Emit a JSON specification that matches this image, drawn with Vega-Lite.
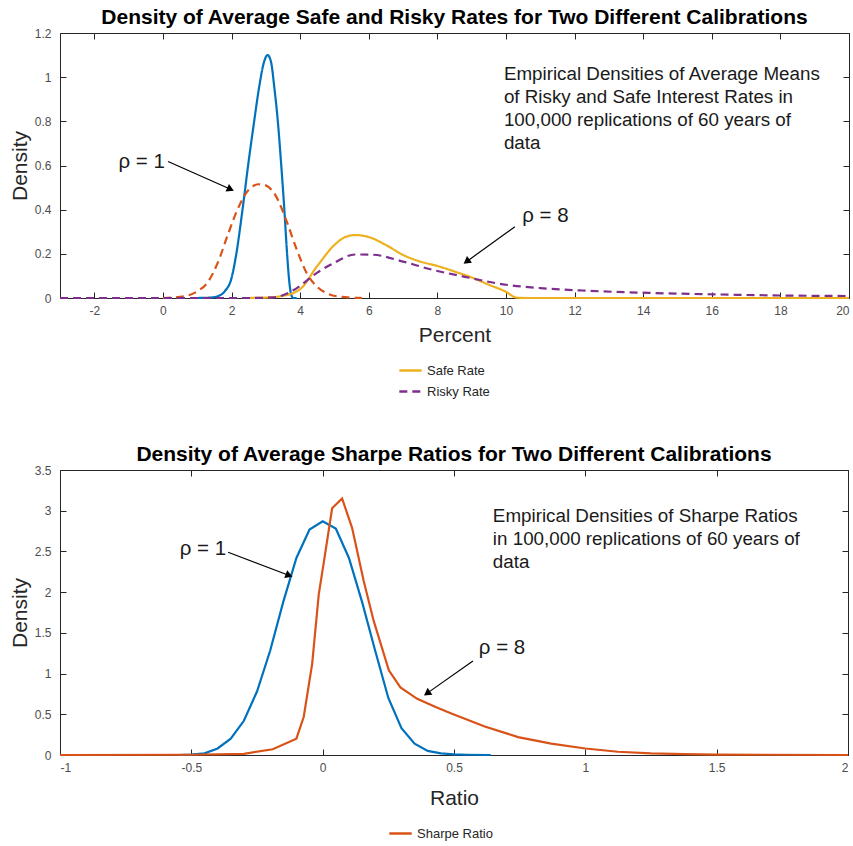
{
  "$schema": "https://vega.github.io/schema/vega-lite/v6.json",
  "padding": {"top": 6, "left": 8, "right": 3, "bottom": 40},
  "spacing": 43,
  "resolve": {"scale": {"color": "independent", "strokeDash": "independent"}, "legend": {"color": "independent", "strokeDash": "independent"}},
  "config": {
    "font": "Liberation Sans",
    "view": {"stroke": "#262626", "strokeWidth": 1},
    "axis": {"grid": false, "domain": false, "tickColor": "#262626", "tickSize": -6, "labelFontSize": 12, "labelColor": "#4d4d4d", "titleFontSize": 21, "titleFontWeight": "normal", "titleColor": "#262626"},
    "axisX": {"labelPadding": 13},
    "axisY": {"labelPadding": 15},
    "title": {"fontSize": 21, "fontWeight": "bold", "color": "#000000", "offset": -1},
    "legend": {"symbolType": "stroke", "symbolStrokeWidth": 2.5, "symbolSize": 500, "labelFontSize": 13, "labelColor": "#262626", "rowPadding": 1, "title": null}
  },
  "datasets": {
    "rates": [
      {"x": 1.0, "y": 0, "series": "ρ=1 Safe"},
      {"x": 1.4, "y": 0.002, "series": "ρ=1 Safe"},
      {"x": 1.6, "y": 0.008, "series": "ρ=1 Safe"},
      {"x": 1.8, "y": 0.03, "series": "ρ=1 Safe"},
      {"x": 2.0, "y": 0.09, "series": "ρ=1 Safe"},
      {"x": 2.14, "y": 0.2, "series": "ρ=1 Safe"},
      {"x": 2.32, "y": 0.4, "series": "ρ=1 Safe"},
      {"x": 2.5, "y": 0.62, "series": "ρ=1 Safe"},
      {"x": 2.66, "y": 0.8, "series": "ρ=1 Safe"},
      {"x": 2.8, "y": 0.95, "series": "ρ=1 Safe"},
      {"x": 2.95, "y": 1.07, "series": "ρ=1 Safe"},
      {"x": 3.05, "y": 1.1, "series": "ρ=1 Safe"},
      {"x": 3.15, "y": 1.07, "series": "ρ=1 Safe"},
      {"x": 3.25, "y": 0.95, "series": "ρ=1 Safe"},
      {"x": 3.35, "y": 0.8, "series": "ρ=1 Safe"},
      {"x": 3.45, "y": 0.6, "series": "ρ=1 Safe"},
      {"x": 3.54, "y": 0.4, "series": "ρ=1 Safe"},
      {"x": 3.62, "y": 0.2, "series": "ρ=1 Safe"},
      {"x": 3.68, "y": 0.08, "series": "ρ=1 Safe"},
      {"x": 3.74, "y": 0.015, "series": "ρ=1 Safe"},
      {"x": 3.8, "y": 0, "series": "ρ=1 Safe"},
      {"x": 3.9, "y": 0, "series": "ρ=1 Safe"},
      {"x": 0.0, "y": 0, "series": "ρ=1 Risky"},
      {"x": 0.5, "y": 0.005, "series": "ρ=1 Risky"},
      {"x": 1.0, "y": 0.03, "series": "ρ=1 Risky"},
      {"x": 1.3, "y": 0.07, "series": "ρ=1 Risky"},
      {"x": 1.6, "y": 0.16, "series": "ρ=1 Risky"},
      {"x": 1.9, "y": 0.29, "series": "ρ=1 Risky"},
      {"x": 2.2, "y": 0.41, "series": "ρ=1 Risky"},
      {"x": 2.5, "y": 0.49, "series": "ρ=1 Risky"},
      {"x": 2.8, "y": 0.515, "series": "ρ=1 Risky"},
      {"x": 3.0, "y": 0.51, "series": "ρ=1 Risky"},
      {"x": 3.3, "y": 0.46, "series": "ρ=1 Risky"},
      {"x": 3.6, "y": 0.35, "series": "ρ=1 Risky"},
      {"x": 3.9, "y": 0.22, "series": "ρ=1 Risky"},
      {"x": 4.2, "y": 0.11, "series": "ρ=1 Risky"},
      {"x": 4.5, "y": 0.05, "series": "ρ=1 Risky"},
      {"x": 4.8, "y": 0.02, "series": "ρ=1 Risky"},
      {"x": 5.2, "y": 0.005, "series": "ρ=1 Risky"},
      {"x": 5.8, "y": 0, "series": "ρ=1 Risky"},
      {"x": 2.5, "y": 0, "series": "Safe Rate"},
      {"x": 3.0, "y": 0.002, "series": "Safe Rate"},
      {"x": 3.5, "y": 0.01, "series": "Safe Rate"},
      {"x": 4.0, "y": 0.04, "series": "Safe Rate"},
      {"x": 4.5, "y": 0.145, "series": "Safe Rate"},
      {"x": 5.0, "y": 0.24, "series": "Safe Rate"},
      {"x": 5.3, "y": 0.275, "series": "Safe Rate"},
      {"x": 5.6, "y": 0.285, "series": "Safe Rate"},
      {"x": 6.0, "y": 0.276, "series": "Safe Rate"},
      {"x": 6.5, "y": 0.24, "series": "Safe Rate"},
      {"x": 7.0, "y": 0.195, "series": "Safe Rate"},
      {"x": 7.5, "y": 0.165, "series": "Safe Rate"},
      {"x": 8.0, "y": 0.145, "series": "Safe Rate"},
      {"x": 8.5, "y": 0.12, "series": "Safe Rate"},
      {"x": 9.0, "y": 0.093, "series": "Safe Rate"},
      {"x": 9.5, "y": 0.06, "series": "Safe Rate"},
      {"x": 10.0, "y": 0.028, "series": "Safe Rate"},
      {"x": 10.3, "y": 0.002, "series": "Safe Rate"},
      {"x": 10.6, "y": 0, "series": "Safe Rate"},
      {"x": 20.0, "y": 0, "series": "Safe Rate"},
      {"x": -3.0, "y": 0, "series": "Risky Rate"},
      {"x": 2.5, "y": 0, "series": "Risky Rate"},
      {"x": 3.25, "y": 0.003, "series": "Risky Rate"},
      {"x": 3.8, "y": 0.035, "series": "Risky Rate"},
      {"x": 4.5, "y": 0.115, "series": "Risky Rate"},
      {"x": 5.0, "y": 0.16, "series": "Risky Rate"},
      {"x": 5.6, "y": 0.197, "series": "Risky Rate"},
      {"x": 6.1, "y": 0.196, "series": "Risky Rate"},
      {"x": 7.0, "y": 0.165, "series": "Risky Rate"},
      {"x": 7.8, "y": 0.13, "series": "Risky Rate"},
      {"x": 8.8, "y": 0.096, "series": "Risky Rate"},
      {"x": 10.0, "y": 0.06, "series": "Risky Rate"},
      {"x": 11.0, "y": 0.045, "series": "Risky Rate"},
      {"x": 12.2, "y": 0.034, "series": "Risky Rate"},
      {"x": 14.2, "y": 0.023, "series": "Risky Rate"},
      {"x": 16.2, "y": 0.016, "series": "Risky Rate"},
      {"x": 18.2, "y": 0.011, "series": "Risky Rate"},
      {"x": 20.0, "y": 0.009, "series": "Risky Rate"}
    ],
    "sharpe": [
      {"x": -0.55, "y": 0, "series": "ρ=1 Sharpe"},
      {"x": -0.5, "y": 0.005, "series": "ρ=1 Sharpe"},
      {"x": -0.45, "y": 0.02, "series": "ρ=1 Sharpe"},
      {"x": -0.4, "y": 0.08, "series": "ρ=1 Sharpe"},
      {"x": -0.35, "y": 0.2, "series": "ρ=1 Sharpe"},
      {"x": -0.3, "y": 0.42, "series": "ρ=1 Sharpe"},
      {"x": -0.25, "y": 0.78, "series": "ρ=1 Sharpe"},
      {"x": -0.2, "y": 1.28, "series": "ρ=1 Sharpe"},
      {"x": -0.15, "y": 1.88, "series": "ρ=1 Sharpe"},
      {"x": -0.1, "y": 2.42, "series": "ρ=1 Sharpe"},
      {"x": -0.05, "y": 2.77, "series": "ρ=1 Sharpe"},
      {"x": 0.0, "y": 2.87, "series": "ρ=1 Sharpe"},
      {"x": 0.05, "y": 2.78, "series": "ρ=1 Sharpe"},
      {"x": 0.1, "y": 2.42, "series": "ρ=1 Sharpe"},
      {"x": 0.15, "y": 1.88, "series": "ρ=1 Sharpe"},
      {"x": 0.2, "y": 1.28, "series": "ρ=1 Sharpe"},
      {"x": 0.25, "y": 0.7, "series": "ρ=1 Sharpe"},
      {"x": 0.3, "y": 0.33, "series": "ρ=1 Sharpe"},
      {"x": 0.35, "y": 0.14, "series": "ρ=1 Sharpe"},
      {"x": 0.4, "y": 0.05, "series": "ρ=1 Sharpe"},
      {"x": 0.45, "y": 0.02, "series": "ρ=1 Sharpe"},
      {"x": 0.5, "y": 0.008, "series": "ρ=1 Sharpe"},
      {"x": 0.55, "y": 0.003, "series": "ρ=1 Sharpe"},
      {"x": 0.64, "y": 0, "series": "ρ=1 Sharpe"},
      {"x": -1.0, "y": 0, "series": "Sharpe Ratio"},
      {"x": -0.5, "y": 0.003, "series": "Sharpe Ratio"},
      {"x": -0.3, "y": 0.015, "series": "Sharpe Ratio"},
      {"x": -0.19, "y": 0.07, "series": "Sharpe Ratio"},
      {"x": -0.1, "y": 0.2, "series": "Sharpe Ratio"},
      {"x": -0.072, "y": 0.47, "series": "Sharpe Ratio"},
      {"x": -0.04, "y": 1.12, "series": "Sharpe Ratio"},
      {"x": -0.015, "y": 1.97, "series": "Sharpe Ratio"},
      {"x": 0.004, "y": 2.36, "series": "Sharpe Ratio"},
      {"x": 0.036, "y": 3.03, "series": "Sharpe Ratio"},
      {"x": 0.074, "y": 3.15, "series": "Sharpe Ratio"},
      {"x": 0.112, "y": 2.79, "series": "Sharpe Ratio"},
      {"x": 0.156, "y": 2.14, "series": "Sharpe Ratio"},
      {"x": 0.194, "y": 1.65, "series": "Sharpe Ratio"},
      {"x": 0.252, "y": 1.04, "series": "Sharpe Ratio"},
      {"x": 0.296, "y": 0.83, "series": "Sharpe Ratio"},
      {"x": 0.36, "y": 0.69, "series": "Sharpe Ratio"},
      {"x": 0.43, "y": 0.59, "series": "Sharpe Ratio"},
      {"x": 0.49, "y": 0.51, "series": "Sharpe Ratio"},
      {"x": 0.617, "y": 0.35, "series": "Sharpe Ratio"},
      {"x": 0.744, "y": 0.22, "series": "Sharpe Ratio"},
      {"x": 0.87, "y": 0.14, "series": "Sharpe Ratio"},
      {"x": 1.0, "y": 0.08, "series": "Sharpe Ratio"},
      {"x": 1.124, "y": 0.04, "series": "Sharpe Ratio"},
      {"x": 1.25, "y": 0.02, "series": "Sharpe Ratio"},
      {"x": 1.377, "y": 0.01, "series": "Sharpe Ratio"},
      {"x": 1.5, "y": 0.005, "series": "Sharpe Ratio"},
      {"x": 2.0, "y": 0, "series": "Sharpe Ratio"}
    ],
    "topText": [
      {"x": 9.94, "y": 1.014, "label": "Empirical Densities of Average Means"},
      {"x": 9.94, "y": 0.909, "label": "of Risky and Safe Interest Rates in"},
      {"x": 9.94, "y": 0.805, "label": "100,000 replications of 60 years of"},
      {"x": 9.94, "y": 0.7, "label": "data"}
    ],
    "topRho": [
      {"x": -0.62, "y": 0.618, "label": "ρ = 1"},
      {"x": 11.15, "y": 0.373, "label": "ρ = 8"}
    ],
    "topArrows": [
      {"id": "a", "x": 0.15, "y": 0.618, "x2": 1.94, "y2": 0.495},
      {"id": "b", "x": 10.26, "y": 0.323, "x2": 8.88, "y2": 0.168}
    ],
    "botText": [
      {"x": 0.648, "y": 2.93, "label": "Empirical Densities of Sharpe Ratios"},
      {"x": 0.648, "y": 2.65, "label": "in 100,000 replications of 60 years of"},
      {"x": 0.648, "y": 2.37, "label": "data"}
    ],
    "botRho": [
      {"x": -0.456, "y": 2.53, "label": "ρ = 1"},
      {"x": 0.683, "y": 1.31, "label": "ρ = 8"}
    ],
    "botArrows": [
      {"id": "a", "x": -0.36, "y": 2.49, "x2": -0.132, "y2": 2.21},
      {"id": "b", "x": 0.572, "y": 1.154, "x2": 0.401, "y2": 0.766}
    ]
  },
  "vconcat": [
    {
      "title": "Density of Average Safe and Risky Rates for Two Different Calibrations",
      "width": 789,
      "height": 265,
      "resolve": {"axis": {"x": "independent", "y": "independent"}},
      "layer": [
        {
          "data": {"name": "rates"},
          "mark": {"type": "line", "interpolate": "monotone", "strokeWidth": 2.2},
          "encoding": {
            "x": {"field": "x", "type": "quantitative", "scale": {"domain": [-3, 20], "nice": false, "zero": false}, "axis": {"orient": "bottom", "values": [-2, 0, 2, 4, 6, 8, 10, 12, 14, 16, 18, 20], "labelExpr": "toString(datum.value)", "title": "Percent", "titlePadding": 8}},
            "y": {"field": "y", "type": "quantitative", "scale": {"domain": [0, 1.2], "nice": false}, "axis": {"orient": "left", "values": [0, 0.2, 0.4, 0.6, 0.8, 1, 1.2], "labelExpr": "toString(datum.value)", "title": "Density", "titlePadding": 4}},
            "color": {"field": "series", "type": "nominal", "scale": {"domain": ["Safe Rate", "Risky Rate", "ρ=1 Safe", "ρ=1 Risky"], "range": ["#EDB120", "#7E2F8E", "#0072BD", "#D95319"]}, "legend": {"orient": "none", "legendX": 338, "legendY": 325, "values": ["Safe Rate", "Risky Rate"], "direction": "vertical"}},
            "strokeDash": {"field": "series", "type": "nominal", "scale": {"domain": ["Safe Rate", "Risky Rate", "ρ=1 Safe", "ρ=1 Risky"], "range": [[1, 0], [8, 5], [1, 0], [8, 5]]}, "legend": {"orient": "none", "legendX": 338, "legendY": 325, "values": ["Safe Rate", "Risky Rate"], "direction": "vertical"}}
          }
        },
        {
          "data": {"name": "topText"},
          "mark": {"type": "text", "align": "left", "baseline": "middle", "fontSize": 18.8, "color": "#1a1a1a"},
          "encoding": {
            "x": {"field": "x", "type": "quantitative", "axis": {"orient": "top", "values": [-2, 0, 2, 4, 6, 8, 10, 12, 14, 16, 18, 20], "labels": false, "title": null}},
            "y": {"field": "y", "type": "quantitative", "axis": {"orient": "right", "values": [0, 0.2, 0.4, 0.6, 0.8, 1, 1.2], "labels": false, "title": null}},
            "text": {"field": "label"}
          }
        },
        {
          "data": {"name": "topRho"},
          "mark": {"type": "text", "align": "center", "baseline": "middle", "fontSize": 20.5, "color": "#1a1a1a"},
          "encoding": {
            "x": {"field": "x", "type": "quantitative", "axis": null},
            "y": {"field": "y", "type": "quantitative", "axis": null},
            "text": {"field": "label"}
          }
        },
        {
          "data": {"name": "topArrows"},
          "mark": {"type": "rule", "color": "#000", "strokeWidth": 1.2},
          "encoding": {
            "x": {"field": "x", "type": "quantitative", "axis": null},
            "y": {"field": "y", "type": "quantitative", "axis": null},
            "x2": {"field": "x2"},
            "y2": {"field": "y2"}
          }
        },
        {
          "data": {"name": "topArrows"},
          "transform": [{"filter": "datum.id == 'a'"}],
          "mark": {"type": "point", "shape": "triangle", "filled": true, "color": "#000", "opacity": 1, "size": 70, "angle": 114},
          "encoding": {
            "x": {"field": "x2", "type": "quantitative", "axis": null},
            "y": {"field": "y2", "type": "quantitative", "axis": null}
          }
        },
        {
          "data": {"name": "topArrows"},
          "transform": [{"filter": "datum.id == 'b'"}],
          "mark": {"type": "point", "shape": "triangle", "filled": true, "color": "#000", "opacity": 1, "size": 70, "angle": 234},
          "encoding": {
            "x": {"field": "x2", "type": "quantitative", "axis": null},
            "y": {"field": "y2", "type": "quantitative", "axis": null}
          }
        }
      ]
    },
    {
      "title": "Density of Average Sharpe Ratios for Two Different Calibrations",
      "width": 788,
      "height": 285,
      "resolve": {"axis": {"x": "independent", "y": "independent"}},
      "layer": [
        {
          "data": {"name": "sharpe"},
          "mark": {"type": "line", "strokeWidth": 2.2},
          "encoding": {
            "x": {"field": "x", "type": "quantitative", "scale": {"domain": [-1, 2], "nice": false, "zero": false}, "axis": {"orient": "bottom", "values": [-1, -0.5, 0, 0.5, 1, 1.5, 2], "labelExpr": "toString(datum.value)", "title": "Ratio", "titlePadding": 14}},
            "y": {"field": "y", "type": "quantitative", "scale": {"domain": [0, 3.5], "nice": false}, "axis": {"orient": "left", "values": [0, 0.5, 1, 1.5, 2, 2.5, 3, 3.5], "labelExpr": "toString(datum.value)", "title": "Density", "titlePadding": 4}},
            "color": {"field": "series", "type": "nominal", "scale": {"domain": ["Sharpe Ratio", "ρ=1 Sharpe"], "range": ["#D95319", "#0072BD"]}, "legend": {"orient": "none", "legendX": 328, "legendY": 351, "values": ["Sharpe Ratio"]}}
          }
        },
        {
          "data": {"name": "botText"},
          "mark": {"type": "text", "align": "left", "baseline": "middle", "fontSize": 18.8, "color": "#1a1a1a"},
          "encoding": {
            "x": {"field": "x", "type": "quantitative", "axis": {"orient": "top", "values": [-1, -0.5, 0, 0.5, 1, 1.5, 2], "labels": false, "title": null}},
            "y": {"field": "y", "type": "quantitative", "axis": {"orient": "right", "values": [0, 0.5, 1, 1.5, 2, 2.5, 3, 3.5], "labels": false, "title": null}},
            "text": {"field": "label"}
          }
        },
        {
          "data": {"name": "botRho"},
          "mark": {"type": "text", "align": "center", "baseline": "middle", "fontSize": 20.5, "color": "#1a1a1a"},
          "encoding": {
            "x": {"field": "x", "type": "quantitative", "axis": null},
            "y": {"field": "y", "type": "quantitative", "axis": null},
            "text": {"field": "label"}
          }
        },
        {
          "data": {"name": "botArrows"},
          "mark": {"type": "rule", "color": "#000", "strokeWidth": 1.2},
          "encoding": {
            "x": {"field": "x", "type": "quantitative", "axis": null},
            "y": {"field": "y", "type": "quantitative", "axis": null},
            "x2": {"field": "x2"},
            "y2": {"field": "y2"}
          }
        },
        {
          "data": {"name": "botArrows"},
          "transform": [{"filter": "datum.id == 'a'"}],
          "mark": {"type": "point", "shape": "triangle", "filled": true, "color": "#000", "opacity": 1, "size": 70, "angle": 111},
          "encoding": {
            "x": {"field": "x2", "type": "quantitative", "axis": null},
            "y": {"field": "y2", "type": "quantitative", "axis": null}
          }
        },
        {
          "data": {"name": "botArrows"},
          "transform": [{"filter": "datum.id == 'b'"}],
          "mark": {"type": "point", "shape": "triangle", "filled": true, "color": "#000", "opacity": 1, "size": 70, "angle": 235},
          "encoding": {
            "x": {"field": "x2", "type": "quantitative", "axis": null},
            "y": {"field": "y2", "type": "quantitative", "axis": null}
          }
        }
      ]
    }
  ]
}
